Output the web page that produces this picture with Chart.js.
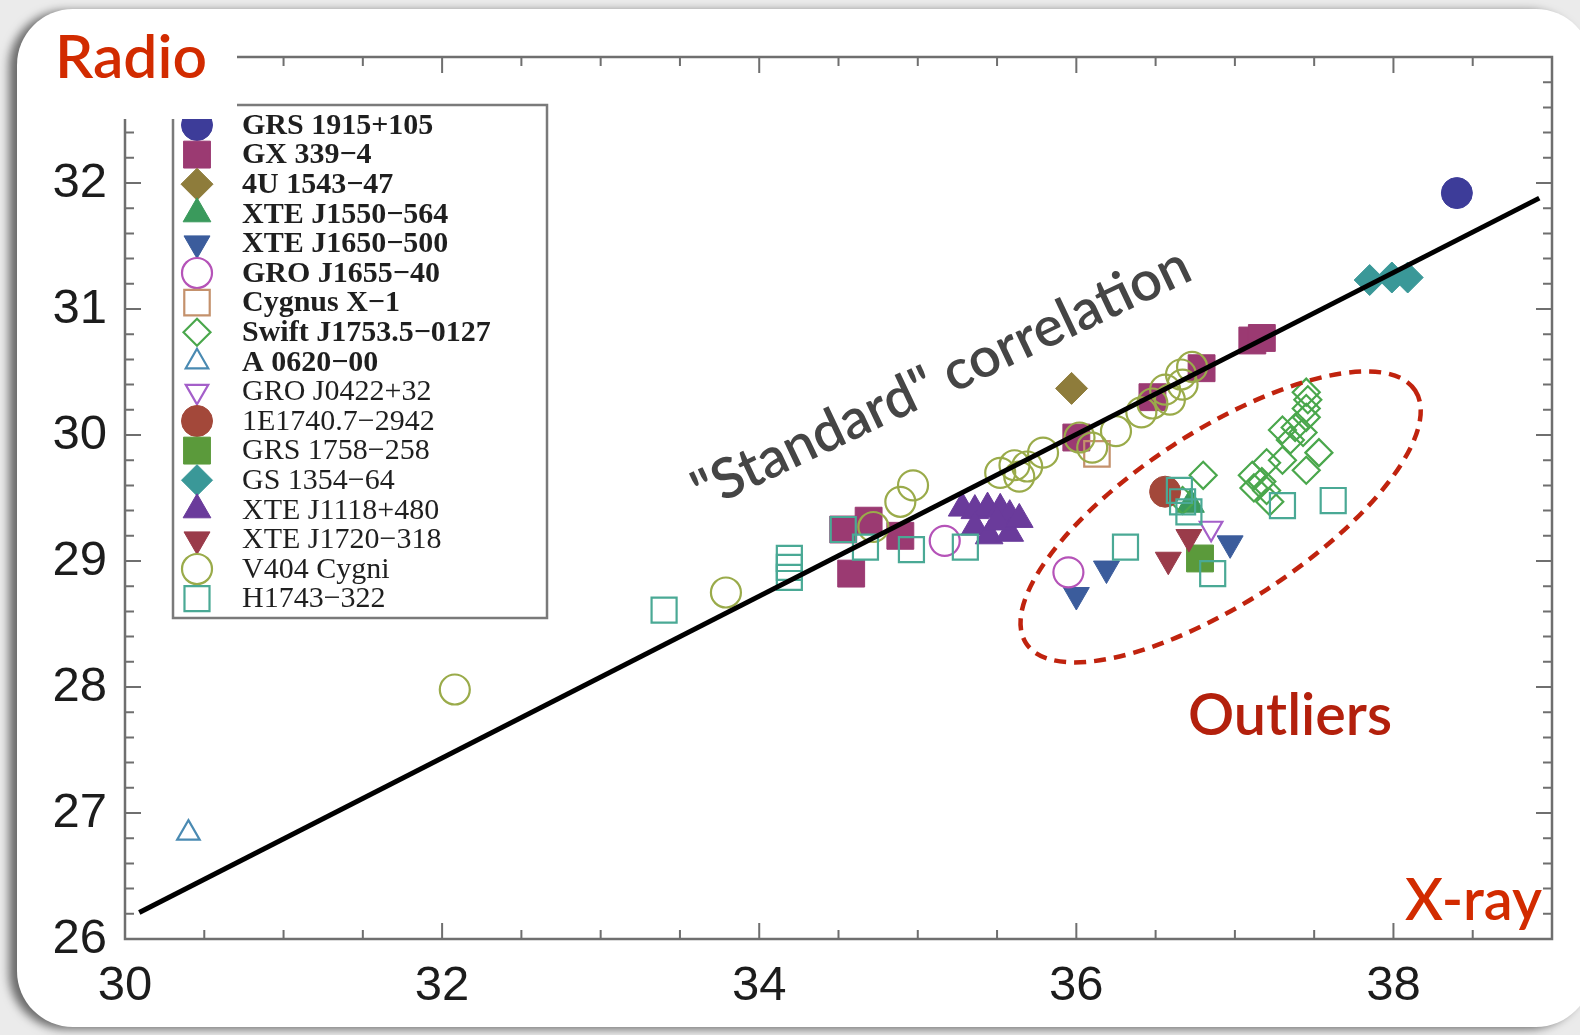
<!DOCTYPE html>
<html>
<head>
<meta charset="utf-8">
<script src="https://cdn.jsdelivr.net/npm/chart.js@4.4.1/dist/chart.umd.min.js"></script>
<style>
  html, body { margin: 0; padding: 0; background: #ebebeb; overflow: hidden; }
  #card { position: absolute; left: 17px; top: 9px; width: 1575px; height: 1018px;
          background: #fff; border-radius: 56px; box-shadow: -8px 2px 10px rgba(0,0,0,0.55); }
  #chart { position: absolute; left: 0; top: 0; }
</style>
</head>
<body>
<div id="card"></div>
<canvas id="chart" width="1580" height="1035"></canvas>
<script>
/* Radio vs X-ray luminosity of black hole X-ray binaries (log units) */

/* Axis ticks */
var xTicks = [30, 32, 34, 36, 38];
var yTicks = [26, 27, 28, 29, 30, 31, 32];

/* Source names, in legend order */
var sourceNames = ['GRS 1915+105', 'GX 339\u22124', '4U 1543\u221247', 'XTE J1550\u2212564',
  'XTE J1650\u2212500', 'GRO J1655\u221240', 'Cygnus X\u22121', 'Swift J1753.5\u22120127',
  'A 0620\u221200', 'GRO J0422+32', '1E1740.7\u22122942', 'GRS 1758\u2212258', 'GS 1354\u221264',
  'XTE J1118+480', 'XTE J1720\u2212318', 'V404 Cygni', 'H1743\u2212322'];

/* Measurements: log Lx, log Lr */
var grs1915X = [38.40];
var grs1915Y = [31.92];
var gx339X = [34.53, 34.69, 34.89, 34.58, 36.00, 36.48, 36.79, 37.11, 37.17];
var gx339Y = [29.25, 29.32, 29.20, 28.90, 29.98, 30.30, 30.53, 30.75, 30.77];
var u1543X = [35.97];
var u1543Y = [30.37];
var j1550X = [36.72];
var j1550Y = [29.45];
var j1650X = [36.00, 36.19, 36.97];
var j1650Y = [28.73, 28.94, 29.14];
var j1655X = [35.17, 35.95];
var j1655Y = [29.16, 28.91];
var cygX1X = [36.13];
var cygX1Y = [29.85];
var swiftX = [36.80, 36.67, 37.11, 37.17, 37.20, 37.22, 37.20, 37.30, 37.35, 37.30,
              37.38, 37.43, 37.45, 37.46, 37.45, 37.45, 37.53, 37.45, 37.12];
var swiftY = [29.68, 29.48, 29.68, 29.63, 29.56, 29.47, 29.78, 29.80, 29.96, 30.04,
              30.06, 30.02, 30.14, 30.28, 30.34, 30.21, 29.86, 29.72, 29.58];
var a0620X = [30.40];
var a0620Y = [26.84];
var j0422X = [36.85];
var j0422Y = [29.26];
var e1740X = [36.56];
var e1740Y = [29.55];
var grs1758X = [36.78];
var grs1758Y = [29.02];
var gs1354X = [37.85, 37.99, 38.09];
var gs1354Y = [31.23, 31.25, 31.25];
var j1118X = [35.28, 35.36, 35.44, 35.52, 35.58, 35.36, 35.45, 35.58, 35.50, 35.64];
var j1118Y = [29.42, 29.40, 29.42, 29.41, 29.36, 29.27, 29.20, 29.22, 29.31, 29.33];
var j1720X = [36.58, 36.71];
var j1720Y = [29.01, 29.19];
var v404X = [32.08, 33.79, 34.72, 34.89, 34.97, 35.52, 35.61, 35.69, 35.64, 35.79,
             36.02, 36.10, 36.25, 36.41, 36.48, 36.56, 36.66, 36.73, 36.67, 36.59];
var v404Y = [27.98, 28.75, 29.27, 29.47, 29.60, 29.70, 29.76, 29.75, 29.67, 29.86,
             29.98, 29.90, 30.03, 30.18, 30.25, 30.36, 30.48, 30.54, 30.40, 30.28];
var h1743X = [33.40, 34.19, 34.19, 34.19, 34.53, 34.67, 34.96, 35.30, 36.31, 36.86,
              37.30, 37.62, 36.67, 36.65, 36.71];
var h1743Y = [28.61, 29.02, 28.95, 28.87, 29.25, 29.11, 29.09, 29.11, 29.11, 28.90,
              29.44, 29.48, 29.47, 29.56, 29.39];

/* "Standard" correlation line end points */
var corrX = [30.09, 38.92];
var corrY = [26.21, 31.88];

/* Outlier ellipse centre */
var outlierX = [36.91];
var outlierY = [29.35];

function pts(xs, ys) {
  return xs.map(function(x, i) { return { x: x, y: ys[i] }; });
}

var setIndex = 0;
function source(xs, ys, color, style, filled, radius, rotation, bold) {
  var i = setIndex++;
  return {
    label: sourceNames[i],
    data: pts(xs, ys),
    pointStyle: style,
    pointRotation: rotation || 0,
    pointRadius: radius,
    pointBackgroundColor: filled ? color : 'rgba(0,0,0,0)',
    pointBorderColor: color,
    pointBorderWidth: filled ? 1 : 2.2,
    order: 100 - i,
    legendBold: bold
  };
}

var datasets = [
  {
    type: 'line',
    label: 'Standard correlation',
    data: pts(corrX, corrY),
    borderColor: '#000',
    borderWidth: 5,
    pointRadius: 0,
    order: 0
  },
  source(grs1915X, grs1915Y, '#3d3c99', 'circle', true, 15.5, 0, true),
  source(gx339X, gx339Y, '#9b3a72', 'rect', true, 19, 0, true),
  source(u1543X, u1543Y, '#8e7c3b', 'rectRot', true, 16, 0, true),
  source(j1550X, j1550Y, '#3a9a5c', 'triangle', true, 16, 0, true),
  source(j1650X, j1650Y, '#3b5c9c', 'triangle', true, 15, 180, true),
  source(j1655X, j1655Y, '#b553b8', 'circle', false, 15, 0, true),
  source(cygX1X, cygX1Y, '#c4916c', 'rect', false, 18, 0, true),
  source(swiftX, swiftY, '#4aa74c', 'rectRot', false, 13.5, 0, true),
  source(a0620X, a0620Y, '#4a8ab2', 'triangle', false, 13, 0, true),
  source(j0422X, j0422Y, '#a45fc9', 'triangle', false, 13, 180, false),
  source(e1740X, e1740Y, '#a3483a', 'circle', true, 15.5, 0, false),
  source(grs1758X, grs1758Y, '#5b9a3b', 'rect', true, 19, 0, false),
  source(gs1354X, gs1354Y, '#3a9898', 'rectRot', true, 15.5, 0, false),
  source(j1118X, j1118Y, '#6a3b9b', 'triangle', true, 16, 0, false),
  source(j1720X, j1720Y, '#9a3b4a', 'triangle', true, 15, 180, false),
  source(v404X, v404Y, '#9aab4a', 'circle', false, 15, 0, false),
  source(h1743X, h1743Y, '#4aa995', 'rect', false, 17.7, 0, false)
];

function fitFont(ctx, text, weight, family, width) {
  ctx.font = weight + ' 100px ' + family;
  var w = ctx.measureText(text).width;
  return weight + ' ' + (100 * width / w).toFixed(1) + 'px ' + family;
}

function drawMarker(ctx, ds, x, y) {
  ctx.save();
  ctx.fillStyle = ds.pointBackgroundColor;
  ctx.strokeStyle = ds.pointBorderColor;
  ctx.lineWidth = ds.pointBorderWidth;
  Chart.helpers.drawPoint(ctx, {
    pointStyle: ds.pointStyle,
    rotation: ds.pointRotation,
    radius: ds.pointRadius,
    borderWidth: ds.pointBorderWidth
  }, x, y);
  ctx.restore();
}

/* Frame, inward ticks, legend box and annotations */
var decorPlugin = {
  id: 'decor',
  afterDraw: function(chart) {
    var ctx = chart.ctx;
    var a = chart.chartArea;
    var sx = chart.scales.x, sy = chart.scales.y;
    var i, v, p, len;

    ctx.save();
    ctx.strokeStyle = '#6f6f6f';
    ctx.lineWidth = 2;
    for (i = 0; i <= 18; i++) {
      v = 30 + i * 0.5;
      p = sx.getPixelForValue(v);
      len = (i % 4 === 0) ? 16 : 9;
      ctx.beginPath();
      ctx.moveTo(p, a.bottom); ctx.lineTo(p, a.bottom - len);
      ctx.moveTo(p, a.top); ctx.lineTo(p, a.top + len);
      ctx.stroke();
    }
    for (i = 0; i <= 35; i++) {
      v = 26 + i * 0.2;
      p = sy.getPixelForValue(v);
      len = (i % 5 === 0) ? 16 : 9;
      ctx.beginPath();
      ctx.moveTo(a.left, p); ctx.lineTo(a.left + len, p);
      ctx.moveTo(a.right, p); ctx.lineTo(a.right - len, p);
      ctx.stroke();
    }
    ctx.lineWidth = 2.5;
    ctx.strokeRect(a.left, a.top, a.right - a.left, a.bottom - a.top);

    /* outlier ellipse */
    ctx.beginPath();
    ctx.setLineDash([12, 8]);
    ctx.lineWidth = 4.5;
    ctx.strokeStyle = '#c0230e';
    ctx.ellipse(sx.getPixelForValue(outlierX[0]), sy.getPixelForValue(outlierY[0]),
                232, 86, -33 * Math.PI / 180, 0, Math.PI * 2);
    ctx.stroke();
    ctx.setLineDash([]);

    /* legend box */
    ctx.fillStyle = '#fff';
    ctx.fillRect(173, 105, 374, 513);
    ctx.strokeStyle = '#7a7a7a';
    ctx.lineWidth = 2.5;
    ctx.strokeRect(173, 105, 374, 513);
    var sets = chart.data.datasets.filter(function(d) { return d.legendBold !== undefined; });
    sets.forEach(function(ds, k) {
      var y = 125 + k * 29.6;
      drawMarker(ctx, ds, 197, y);
      ctx.fillStyle = '#1f1f1f';
      ctx.font = (ds.legendBold ? 'bold ' : '') + '30px "Liberation Serif", "Times New Roman", serif';
      ctx.textAlign = 'left';
      ctx.textBaseline = 'middle';
      ctx.fillText(ds.label, 242, y + 1);
    });

    /* white patch behind the Radio label */
    ctx.fillStyle = '#fff';
    ctx.fillRect(100, 40, 137, 79);

    var fam = 'Lato, "Open Sans", sans-serif';
    ctx.textBaseline = 'alphabetic';
    ctx.textAlign = 'left';
    ctx.fillStyle = '#d22b00';
    ctx.font = fitFont(ctx, 'Radio', '600', fam, 152);
    ctx.fillText('Radio', 55, 78);

    ctx.font = fitFont(ctx, 'X-ray', '600', fam, 137);
    ctx.textAlign = 'right';
    ctx.fillText('X-ray', a.right - 10, a.bottom - 19);

    ctx.textAlign = 'left';
    ctx.fillStyle = '#b3200c';
    ctx.font = fitFont(ctx, 'Outliers', '600', fam, 204);
    ctx.fillText('Outliers', 1188, 735);

    var label = '"Standard" correlation';
    ctx.font = fitFont(ctx, label, '600', fam, 544);
    ctx.fillStyle = '#454545';
    ctx.translate(949, 395);
    ctx.rotate(-25.3 * Math.PI / 180);
    ctx.textAlign = 'center';
    ctx.fillText(label, 0, 0);
    ctx.restore();
  }
};

var tickFont = { family: '"Liberation Sans", Arial, Helvetica, sans-serif', size: 49 };

new Chart(document.getElementById('chart').getContext('2d'), {
  type: 'scatter',
  data: { datasets: datasets },
  options: {
    responsive: false,
    animation: false,
    layout: { padding: { top: 57, right: 28, left: 0, bottom: 0 } },
    plugins: { legend: { display: false }, tooltip: { enabled: false } },
    scales: {
      x: {
        type: 'linear', min: 30, max: 39,
        grid: { display: false, drawTicks: false },
        border: { display: false },
        ticks: { font: tickFont, color: '#1c1c1c', padding: 18, autoSkip: false, maxRotation: 0 },
        afterBuildTicks: function(s) { s.ticks = xTicks.map(function(v) { return { value: v }; }); },
        afterFit: function(s) { s.height = 96; }
      },
      y: {
        type: 'linear', min: 26, max: 33,
        grid: { display: false, drawTicks: false },
        border: { display: false },
        ticks: { font: tickFont, color: '#1c1c1c', padding: 18, autoSkip: false },
        afterBuildTicks: function(s) { s.ticks = yTicks.map(function(v) { return { value: v }; }); },
        afterFit: function(s) { s.width = 125; }
      }
    }
  },
  plugins: [decorPlugin]
});
</script>
</body>
</html>
